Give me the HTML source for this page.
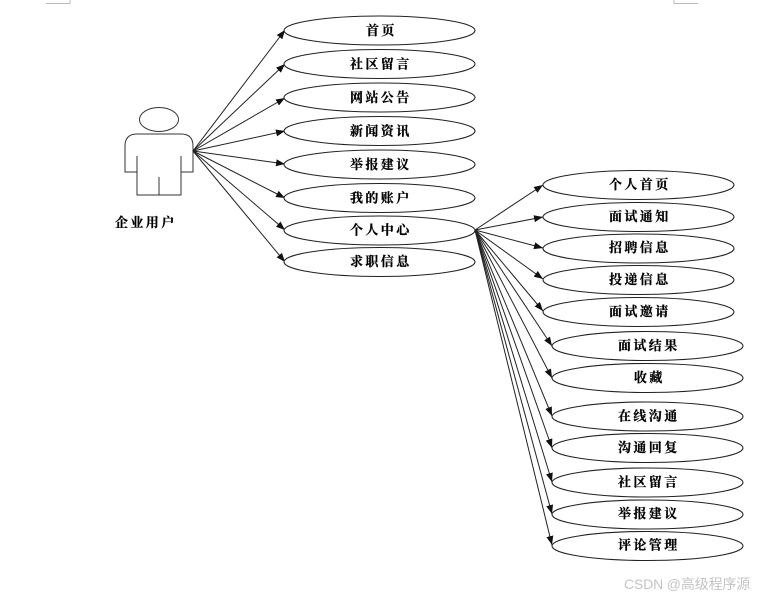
<!DOCTYPE html>
<html>
<head>
<meta charset="utf-8">
<style>
html,body{margin:0;padding:0;background:#fff;width:758px;height:597px;overflow:hidden}
svg{display:block}
.t{font-family:"Liberation Serif","Noto Serif CJK SC",serif;font-size:13px;font-weight:700;letter-spacing:2.4px;fill:#000;stroke:#000;stroke-width:.25}
.e{fill:#fff;stroke:#222;stroke-width:1.1}
.l{stroke:#222;stroke-width:1;fill:none}
</style>
</head>
<body>
<svg width="758" height="597" viewBox="0 0 758 597" xmlns="http://www.w3.org/2000/svg">
<defs>
<marker id="a" markerUnits="userSpaceOnUse" markerWidth="10" markerHeight="8" refX="9" refY="3.500" orient="auto">
<path d="M0,0 L9,3.500 L0,7 Z" fill="#111"/>
</marker>
</defs>
<path d="M46,3.500H70V0M674,0V3.500H698" fill="none" stroke="#bbb" stroke-width="1"/>

<!-- actor -->
<ellipse cx="159" cy="119.500" rx="19.500" ry="12" fill="#fff" stroke="#333" stroke-width="1"/>
<path d="M137,172H125V146Q125,134 137,134H181Q193,134 193,146V172H181M137,156V195H181V156M159,177V195" fill="none" stroke="#333" stroke-width="1"/>
<text class="t" x="115" y="227">企业用户</text>

<!-- left connectors -->
<g class="l">
<line x1="193" y1="151" x2="285" y2="30" marker-end="url(#a)"/>
<line x1="193" y1="151" x2="285" y2="64" marker-end="url(#a)"/>
<line x1="193" y1="151" x2="285" y2="98" marker-end="url(#a)"/>
<line x1="193" y1="151" x2="285" y2="131" marker-end="url(#a)"/>
<line x1="193" y1="151" x2="285" y2="164" marker-end="url(#a)"/>
<line x1="193" y1="151" x2="285" y2="198" marker-end="url(#a)"/>
<line x1="193" y1="151" x2="285" y2="230" marker-end="url(#a)"/>
<line x1="193" y1="151" x2="285" y2="262" marker-end="url(#a)"/>
</g>

<!-- right connectors -->
<g class="l">
<line x1="475" y1="230" x2="543" y2="185" marker-end="url(#a)"/>
<line x1="475" y1="230" x2="543" y2="217" marker-end="url(#a)"/>
<line x1="475" y1="230" x2="543" y2="248" marker-end="url(#a)"/>
<line x1="475" y1="230" x2="543" y2="279" marker-end="url(#a)"/>
<line x1="475" y1="230" x2="543" y2="311" marker-end="url(#a)"/>
<line x1="475" y1="230" x2="552" y2="346" marker-end="url(#a)"/>
<line x1="475" y1="230" x2="552" y2="378" marker-end="url(#a)"/>
<line x1="475" y1="230" x2="552" y2="416" marker-end="url(#a)"/>
<line x1="475" y1="230" x2="552" y2="448" marker-end="url(#a)"/>
<line x1="475" y1="230" x2="552" y2="482" marker-end="url(#a)"/>
<line x1="475" y1="230" x2="552" y2="514" marker-end="url(#a)"/>
<line x1="475" y1="230" x2="552" y2="545" marker-end="url(#a)"/>
</g>

<!-- left ellipses -->
<ellipse class="e" cx="379.500" cy="30.500" rx="95.500" ry="14.500"/>
<ellipse class="e" cx="379.500" cy="64" rx="95.500" ry="14.500"/>
<ellipse class="e" cx="379.500" cy="97.500" rx="95.500" ry="14.500"/>
<ellipse class="e" cx="379.500" cy="131" rx="95.500" ry="14.500"/>
<ellipse class="e" cx="379.500" cy="164.500" rx="95.500" ry="14.500"/>
<ellipse class="e" cx="379.500" cy="198" rx="95.500" ry="14.500"/>
<ellipse class="e" cx="379.500" cy="230.500" rx="95.500" ry="14.500"/>
<ellipse class="e" cx="379.500" cy="262" rx="95.500" ry="14.500"/>
<text class="t" x="366" y="35">首页</text>
<text class="t" x="350" y="68.500">社区留言</text>
<text class="t" x="350" y="102">网站公告</text>
<text class="t" x="350" y="135.500">新闻资讯</text>
<text class="t" x="350" y="169">举报建议</text>
<text class="t" x="350" y="202.500">我的账户</text>
<text class="t" x="350" y="234.500">个人中心</text>
<text class="t" x="350" y="266">求职信息</text>

<!-- right ellipses -->
<ellipse class="e" cx="638.500" cy="185" rx="95.500" ry="14.500"/>
<ellipse class="e" cx="638.500" cy="217" rx="95.500" ry="14.500"/>
<ellipse class="e" cx="638.500" cy="248.500" rx="95.500" ry="14.500"/>
<ellipse class="e" cx="638.500" cy="280" rx="95.500" ry="14.500"/>
<ellipse class="e" cx="638.500" cy="312" rx="95.500" ry="14.500"/>
<ellipse class="e" cx="647.500" cy="346" rx="95.500" ry="14.500"/>
<ellipse class="e" cx="647.500" cy="378" rx="95.500" ry="14.500"/>
<ellipse class="e" cx="647.500" cy="416.500" rx="95.500" ry="14.500"/>
<ellipse class="e" cx="647.500" cy="448" rx="95.500" ry="14.500"/>
<ellipse class="e" cx="647.500" cy="482.500" rx="95.500" ry="14.500"/>
<ellipse class="e" cx="647.500" cy="514.500" rx="95.500" ry="14.500"/>
<ellipse class="e" cx="647.500" cy="546" rx="95.500" ry="14.500"/>
<text class="t" x="609" y="189">个人首页</text>
<text class="t" x="609" y="221">面试通知</text>
<text class="t" x="609" y="252">招聘信息</text>
<text class="t" x="609" y="284">投递信息</text>
<text class="t" x="609" y="316">面试邀请</text>
<text class="t" x="618" y="350">面试结果</text>
<text class="t" x="634" y="382">收藏</text>
<text class="t" x="618" y="420.500">在线沟通</text>
<text class="t" x="618" y="452">沟通回复</text>
<text class="t" x="618" y="486.500">社区留言</text>
<text class="t" x="618" y="518">举报建议</text>
<text class="t" x="618" y="549.500">评论管理</text>

<text x="624" y="589" font-family="'Liberation Sans','Noto Sans CJK SC',sans-serif" font-size="14" letter-spacing="-0.15" fill="#c4c4c4">CSDN @高级程序源</text>
</svg>
</body>
</html>
